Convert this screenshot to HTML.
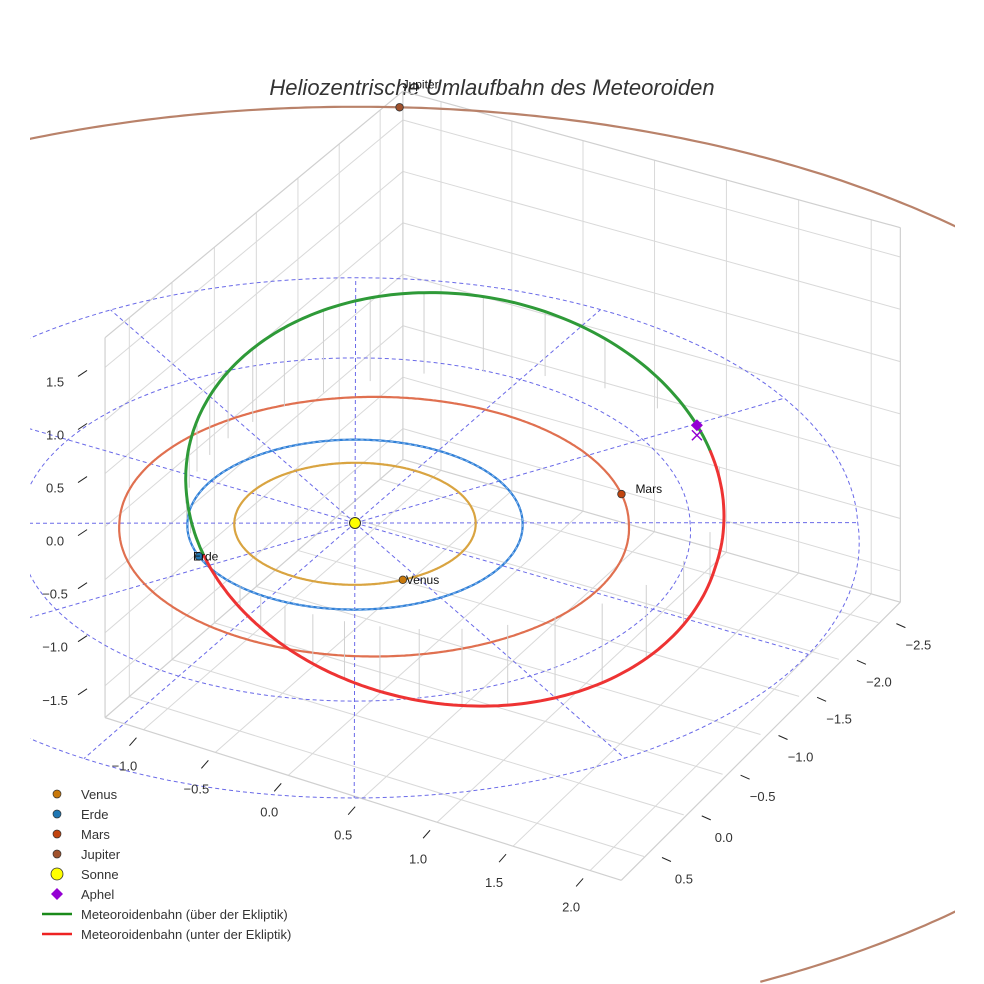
<!DOCTYPE html>
<html><head><meta charset="utf-8"><style>
html,body{margin:0;background:#fff;width:984px;height:984px;overflow:hidden;}
svg{display:block;font-family:"Liberation Sans",sans-serif;}
</style></head><body>
<svg id="chart" width="984" height="984" viewBox="0 0 984 984">
<rect width="984" height="984" fill="#fff"/>
<defs><clipPath id="sc"><rect x="30" y="0" width="925" height="984"/></clipPath></defs>
<text x="492" y="95" text-anchor="middle" font-size="22" font-style="italic" fill="#333">Heliozentrische Umlaufbahn des Meteoroiden</text>
<g id="scene" clip-path="url(#sc)"></g>
<g id="ticks"></g>
<g id="legend"></g>
</svg>
<script>
// ---- data ----
const xTicks = [-1.0, -0.5, 0.0, 0.5, 1.0, 1.5, 2.0];
const yTicks = [-2.5, -2.0, -1.5, -1.0, -0.5, 0.0, 0.5];
const zTicks = [-1.5, -1.0, -0.5, 0.0, 0.5, 1.0, 1.5];
const xRange = [-1.27, 2.2];
const yRange = [-2.78, 0.78];
const zRange = [-1.8, 1.78];
const planetNames = ["Venus", "Erde", "Mars", "Jupiter"];
const planetRadii = [0.72, 1.0, 1.52, 5.2];
const planetCenterOffsets = [0, 0, 0.114, 0];
const planetAngles = [37, 127, -43, -117];
const planetOrbitColors = ["#d9a441", "#2f7fd6", "#e07050", "#b9826a"];
const planetDotColors = ["#c8780a", "#1f77b4", "#c1440e", "#a0522d"];
const refCircleRadii = [1, 2, 3];
const refSpokeAngles = [0, 30, 60, 90, 120, 150, 180, 210, 240, 270, 300, 330];
const meteorSemiMajor = [1.64];
const meteorEcc = [0.41];
const meteorPeriLon = [123];
const meteorIncl = [31];
const meteorNodeShift = [-4.6];
const dropLineAnomalies = [20,30,40,50,60,70,80,90,100,110,120,130,140,150,160,170,190,200,210,220,230,240,250,260,270,280,290,300,310,320,330,340];

// ---- projection ----
function P(x,y,z){
  const ox=145*x-84*y, oy=42*x+73*y-106*z;
  const d=-(42*x+73*y)/84;
  const f=1/(1+(d>0?0.01:0.027)*d);
  return [355+ox*f, 523+oy*f];
}
const NS="http://www.w3.org/2000/svg";
const scene=document.getElementById('scene');
const ticksG=document.getElementById('ticks');
const legend=document.getElementById('legend');
function mk(tag,attrs,parent){const e=document.createElementNS(NS,tag);for(const k in attrs)e.setAttribute(k,attrs[k]);parent.appendChild(e);return e;}
function line3(a,b,attrs,parent){const p=P(...a),q=P(...b);return mk('line',Object.assign({x1:p[0],y1:p[1],x2:q[0],y2:q[1]},attrs),parent);}
function inside(p){return p[0]>=20&&p[0]<=964&&p[1]>=0&&p[1]<=982;}
// draws only in-frame runs of points; returns first created element
function poly(pts,attrs,parent){
  const runs=[];let cur=[];
  pts.forEach(p=>{if(inside(p))cur.push(p);else{if(cur.length>1)runs.push(cur);cur=[];}});
  if(cur.length>1)runs.push(cur);
  const g=mk('g',{},parent);
  runs.forEach(r=>mk('polyline',Object.assign({points:r.map(p=>p[0].toFixed(1)+','+p[1].toFixed(1)).join(' '),fill:'none'},attrs),g));
  return g;
}
const rad=Math.PI/180;
const [x0,x1]=xRange,[y0,y1]=yRange,[z0,z1]=zRange;
const gs={stroke:'#d9d9d9','stroke-width':1};

const grid=mk('g',{},scene);


yTicks.forEach(v=>{line3([x0,v,z0],[x0,v,z1],gs,grid);line3([x0,v,z0],[x1,v,z0],gs,grid);});
zTicks.forEach(v=>{line3([x0,y0,v],[x0,y1,v],gs,grid);line3([x0,y0,v],[x1,y0,v],gs,grid);});
xTicks.forEach(v=>{line3([v,y0,z0],[v,y0,z1],gs,grid);line3([v,y0,z0],[v,y1,z0],gs,grid);});
const es={stroke:'#d0d0d0','stroke-width':1.2};
[[[x0,y0,z0],[x0,y0,z1]],[[x0,y1,z0],[x0,y1,z1]],[[x1,y0,z0],[x1,y0,z1]],
 [[x0,y0,z1],[x1,y0,z1]],[[x0,y0,z1],[x0,y1,z1]],
 [[x0,y1,z0],[x1,y1,z0]],[[x1,y0,z0],[x1,y1,z0]],[[x0,y0,z0],[x0,y1,z0]],[[x0,y0,z0],[x1,y0,z0]]].forEach(e=>line3(e[0],e[1],es,grid));

const ref=mk('g',{},scene);


const ds={stroke:'#6a6ae8','stroke-width':1,'stroke-dasharray':'4,3',fill:'none'};
refCircleRadii.forEach(r=>{const pts=[];for(let t=0;t<=360;t+=2)pts.push(P(r*Math.cos(t*rad),r*Math.sin(t*rad),0));poly(pts,ds,ref);});
const rmax=Math.max(...refCircleRadii);
refSpokeAngles.forEach(a=>line3([0,0,0],[rmax*Math.cos(a*rad),rmax*Math.sin(a*rad),0],ds,ref));

function orbitCenter(i){const o=planetCenterOffsets[i];return [o*Math.cos(-30*rad),o*Math.sin(-30*rad)];}
planetRadii.forEach((r,i)=>{
  const c=orbitCenter(i);
  const pts=[];for(let t=0;t<=360;t+=0.5)pts.push(P(c[0]+r*Math.cos(t*rad),c[1]+r*Math.sin(t*rad),0));
  const o=poly(pts,{stroke:planetOrbitColors[i],'stroke-width':2.2},scene);
  
  
});
{const pts=[];for(let t=0;t<=360;t+=2)pts.push(P(Math.cos(t*rad),Math.sin(t*rad),0));poly(pts,{stroke:'#8ab8ee','stroke-width':1,'stroke-dasharray':'3,3'},scene);}

const A=meteorSemiMajor[0],E=meteorEcc[0],W=meteorPeriLon[0],I=meteorIncl[0],S=meteorNodeShift[0];
function meteor(nu){const p=A*(1-E*E);const r=p/(1+E*Math.cos(nu*rad));const th=(nu+W)*rad;
  return [r*Math.cos(th),r*Math.sin(th),r*Math.sin((nu+S)*rad)*Math.sin(I*rad)];}
const drops=mk('g',{},scene);


dropLineAnomalies.forEach(nu=>{const m=meteor(nu);line3(m,[m[0],m[1],0],{stroke:'#d0d0d0','stroke-width':1},drops);});
let seg=[],cur=null;
function flush(){if(seg.length>1){const o=poly(seg,{stroke:cur?'#2e9a38':'#ee3333','stroke-width':3,'stroke-linecap':'round'},scene);
  
  }}
for(let nu=0;nu<=360;nu+=1){const m=meteor(nu);const above=m[2]>=0;const p=P(...m);
  if(cur===null)cur=above;
  if(above!==cur){seg.push(p);flush();seg=[p];cur=above;}else seg.push(p);}
flush();

{const m=meteor(180);const p=P(...m),q=P(m[0],m[1],0);
 const c=mk('path',{d:`M${q[0]-5},${q[1]-5}L${q[0]+5},${q[1]+5}M${q[0]+5},${q[1]-5}L${q[0]-5},${q[1]+5}`,stroke:'#9400d3','stroke-width':1.5},scene);
 
 
 const d=mk('path',{d:`M${p[0]},${p[1]-6}L${p[0]+6},${p[1]}L${p[0]},${p[1]+6}L${p[0]-6},${p[1]}Z`,fill:'#9400d3'},scene);
 
 }

{const p=P(0,0,0);const s=mk('circle',{cx:p[0],cy:p[1],r:5.5,fill:'#ffff00',stroke:'#333','stroke-width':1},scene);
 
 }
const labelOff=[[3,4],[-6,4],[14,-1],[3,-19]];
planetNames.forEach((n,i)=>{
  const r=planetRadii[i],a=planetAngles[i]*rad;const c0=orbitCenter(i);
  const p=P(c0[0]+r*Math.cos(a),c0[1]+r*Math.sin(a),0);
  const c=mk('circle',{cx:p[0],cy:p[1],r:3.8,fill:planetDotColors[i],stroke:'#333','stroke-width':0.8},scene);
  
  
  const t=mk('text',{x:p[0]+labelOff[i][0],y:p[1]+labelOff[i][1],'font-size':12,fill:'#111'},scene);
  t.textContent=n;
  
  
});

const ts={fill:'#333','font-size':13,'text-anchor':'middle'};
zTicks.forEach(v=>{const p=P(x0,y1,v);
  mk('line',{x1:p[0]-27,y1:p[1]+9,x2:p[0]-18,y2:p[1]+3,stroke:'#222','stroke-width':1},ticksG);
  const t=mk('text',Object.assign({x:p[0]-50,y:p[1]+19},ts),ticksG);t.textContent=v.toFixed(1).replace('-','\u2212');
  
  });
xTicks.forEach(v=>{const p=P(v,y1,z0);
  mk('line',{x1:p[0]-14,y1:p[1]+16,x2:p[0]-7,y2:p[1]+8,stroke:'#222','stroke-width':1},ticksG);
  const t=mk('text',Object.assign({x:p[0]-19,y:p[1]+41},ts),ticksG);t.textContent=v.toFixed(1).replace('-','\u2212');
  
  });
yTicks.forEach(v=>{const p=P(x1,v,z0);
  mk('line',{x1:p[0]+18,y1:p[1]+1,x2:p[0]+27,y2:p[1]+5,stroke:'#222','stroke-width':1},ticksG);
  const t=mk('text',Object.assign({x:p[0]+40,y:p[1]+27},ts),ticksG);t.textContent=v.toFixed(1).replace('-','\u2212');
  
  });

const legNames=["Venus","Erde","Mars","Jupiter","Sonne","Aphel","Meteoroidenbahn (über der Ekliptik)","Meteoroidenbahn (unter der Ekliptik)"];
const legColors=["#c8780a","#1f77b4","#c1440e","#a0522d","#ffff00","#9400d3","#1a8a1a","#ee2222"];
const legKinds=["dot","dot","dot","dot","sun","diamond","line","line"];
legNames.forEach((n,i)=>{
  const y=794+i*20;
  const g=mk('g',{},legend);
  
  
  const k=legKinds[i];
  if(k==='dot')mk('circle',{cx:57,cy:y,r:4,fill:legColors[i],stroke:'#333','stroke-width':0.7},g);
  else if(k==='sun')mk('circle',{cx:57,cy:y,r:6,fill:legColors[i],stroke:'#333','stroke-width':0.8},g);
  else if(k==='diamond')mk('path',{d:`M57,${y-6}L63,${y}L57,${y+6}L51,${y}Z`,fill:legColors[i]},g);
  else mk('line',{x1:42,y1:y,x2:72,y2:y,stroke:legColors[i],'stroke-width':2.5},g);
  const t=mk('text',{x:81,y:y+5,'font-size':13,fill:'#333'},g);t.textContent=n;
});
</script>
</body></html>
